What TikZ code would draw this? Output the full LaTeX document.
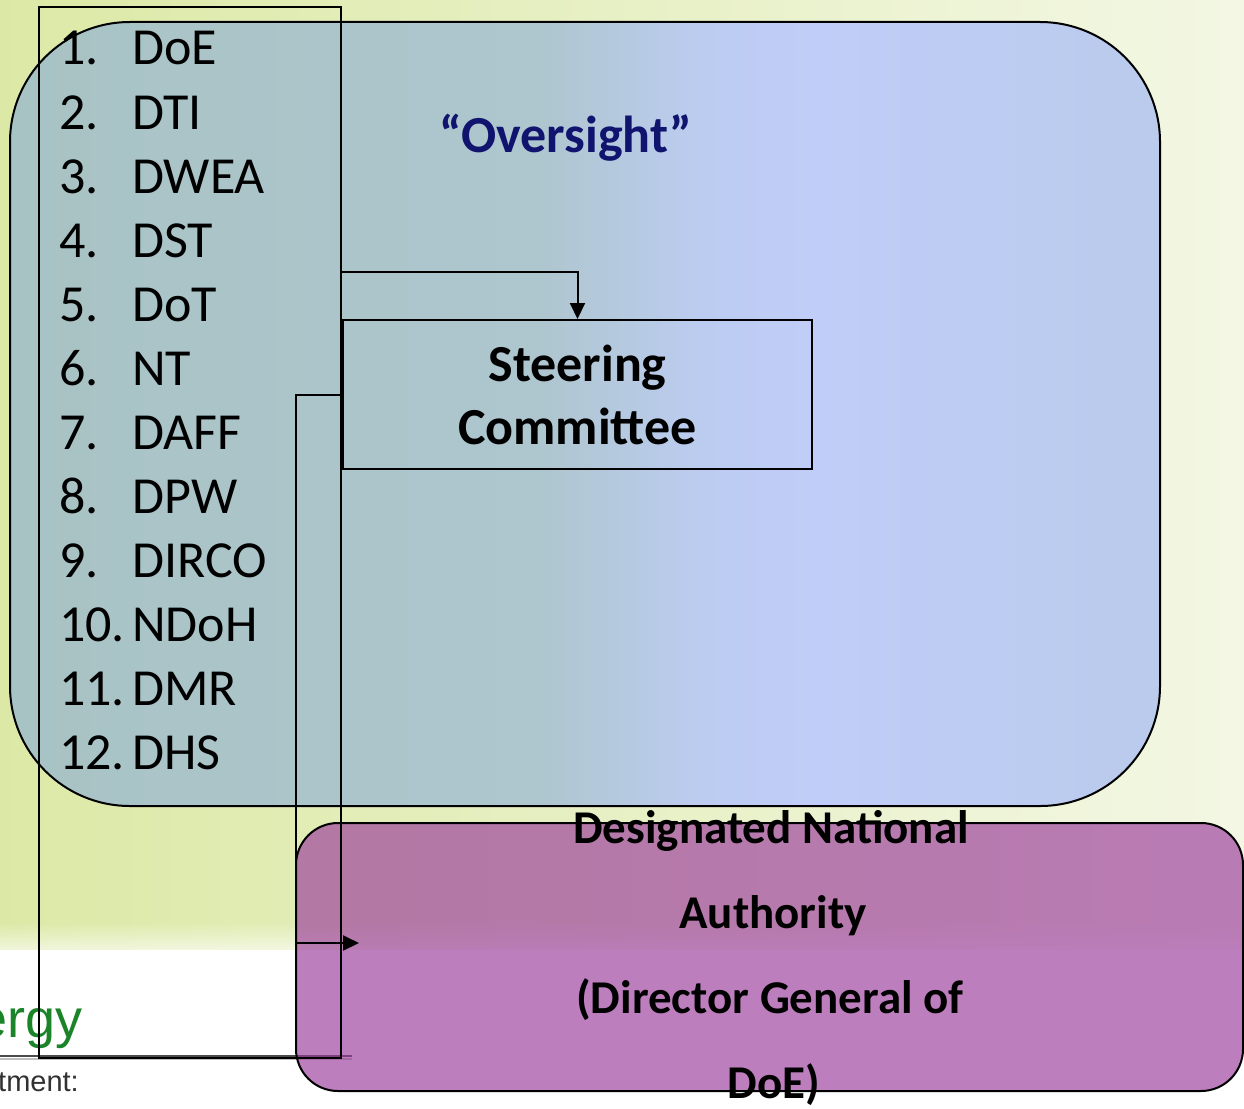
\documentclass[tikz,border=0pt]{standalone}
\usepackage{fontspec}
\setmainfont{Carlito}
\newfontfamily\arialfont{Liberation Sans}
\usetikzlibrary{arrows.meta,fadings}
\definecolor{bgL}{RGB}{220,233,166}
\definecolor{bgR}{RGB}{243,247,228}
\definecolor{ovA}{RGB}{168,195,196}
\definecolor{ovB}{RGB}{174,198,206}
\definecolor{ovC}{RGB}{188,204,240}
\definecolor{ovD}{RGB}{192,205,248}
\definecolor{ovE}{RGB}{186,203,236}
\definecolor{purp}{RGB}{155,58,155}
\definecolor{navy}{RGB}{16,20,110}
\definecolor{logogreen}{RGB}{28,132,40}
\definecolor{logogray}{RGB}{50,50,50}
\pgfdeclarehorizontalshading{ovshade}{100bp}{color(0bp)=(ovA); color(25bp)=(ovA); color(48bp)=(ovB); color(55bp)=(ovC); color(60bp)=(ovD); color(75bp)=(ovE); color(100bp)=(ovE)}
\tikzset{
  frame/.style={draw=black, line width=2pt},
  ovbox/.style={frame, rectangle, rounded corners=120pt, shading=ovshade, minimum width=1150pt, minimum height=784pt, inner sep=0pt},
  dnabox/.style={frame, rectangle, rounded corners=42pt, fill=purp, fill opacity=0.65, minimum width=947pt, minimum height=268pt, inner sep=0pt},
  scbox/.style={frame, rectangle, minimum width=469pt, minimum height=149pt, inner sep=0pt, align=center, font=\fontsize{52}{63}\selectfont\bfseries},
  listbox/.style={frame, rectangle, minimum width=302pt, minimum height=1051pt, inner sep=0pt},
  itemtxt/.style={anchor=base west, inner sep=0pt, font=\fontsize{52}{60}\selectfont},
  dnatxt/.style={anchor=base, inner sep=0pt, font=\fontsize{47}{50}\selectfont\bfseries},
  conn/.style={draw=black, line width=2pt, -{Triangle[length=16pt,width=15pt]}},
}
\begin{document}
\begin{tikzpicture}[x=1pt,y=-1pt]
\useasboundingbox (0,0) rectangle (1244,1108);
% background
\fill[left color=bgL, right color=bgR] (0,0) rectangle (1244,950);
\fill[white, path fading=north, fill opacity=0.6] (0,922) rectangle (1244,950);
\fill[white] (0,950) rectangle (1244,1108);
% logo remnants
\node[anchor=base east, inner sep=0pt, text=logogreen, font=\arialfont\fontsize{54}{60}\selectfont] (logo) at (83,1037) {ergy};
\node[anchor=base east, inner sep=0pt, text=logogray, font=\arialfont\fontsize{29}{30}\selectfont] (dept) at (79,1091) {tment:};
\draw[line width=2.5pt, black!70] (0,1056) -- (352,1056);
\draw[line width=1.5pt, black!25] (0,1059) -- (352,1059);
% oversight box
\node[ovbox] (ov) at (585,414) {};
\node[anchor=base, inner sep=0pt, text=navy, font=\fontsize{52}{60}\selectfont\bfseries] (ovt) at (566,152) {“Oversight”};
% steering committee
\node[scbox] (sc) at (577.5,394.5) {Steering\\Committee};
% DNA box
\node[dnabox] (dna) at (769.5,957) {};
\node[dnatxt] (d1) at (771,843) {Designated National};
\node[dnatxt] (d2) at (773,928) {Authority};
\node[dnatxt] (d3) at (770,1013) {(Director General of};
\node[dnatxt] (d4) at (774,1098) {DoE)};
% list box
\node[listbox] (list) at (190,532.5) {};
\foreach \n/\t [count=\i] in {1./DoE,2./DTI,3./DWEA,4./DST,5./DoT,6./NT,7./DAFF,8./DPW,9./DIRCO,10./NDoH,11./DMR,12./DHS}{
  \node[itemtxt] (num\i) at (59,{1+64*\i}) {\n};
  \node[itemtxt] (itm\i) at (132,{1+64*\i}) {\t};
}
% connectors
\coordinate (a0) at (341,272);
\draw[conn] (a0) -| (sc.north);
\coordinate (b0) at (341,395);
\coordinate (b1) at (296,395);
\coordinate (b2) at (359,943);
\draw[conn] (b0) -- (b1) |- (b2);
\end{tikzpicture}
\end{document}
